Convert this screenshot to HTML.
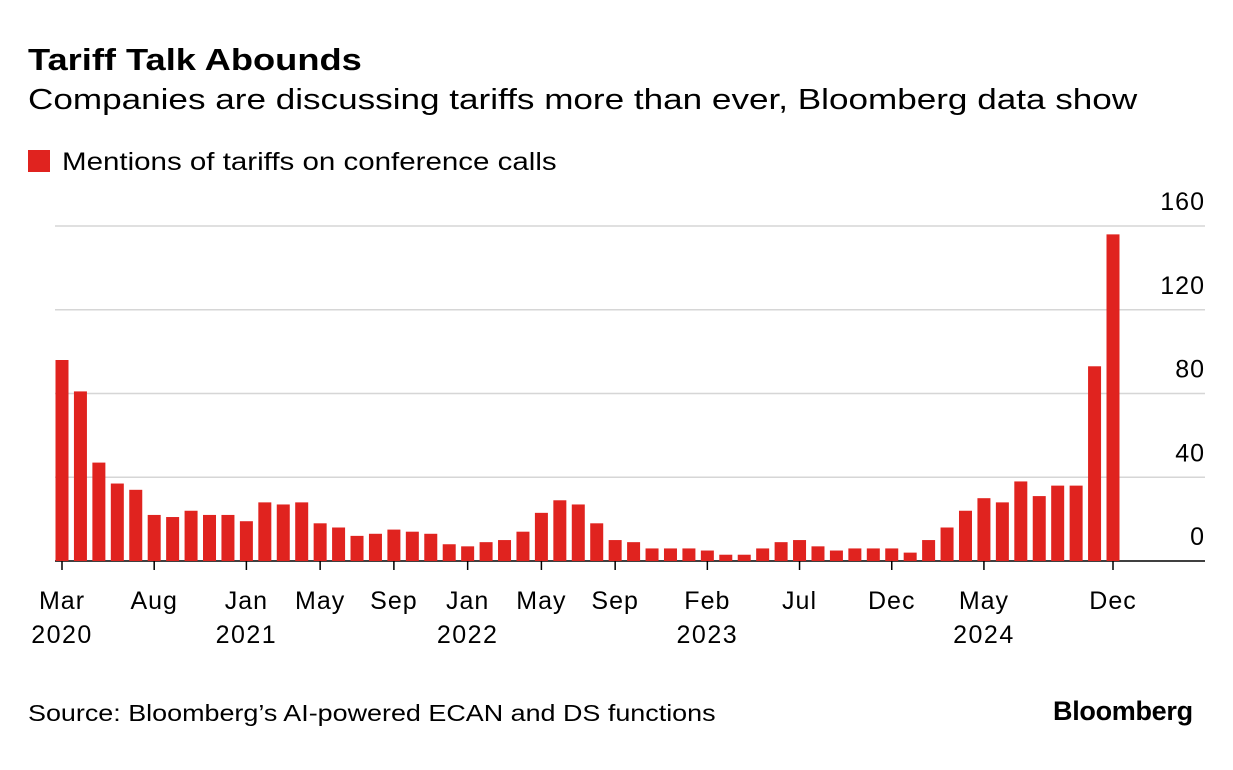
<!DOCTYPE html>
<html><head><meta charset="utf-8"><style>
body{margin:0;background:#fff;font-family:"Liberation Sans",sans-serif;color:#000}
.wrap{position:relative;width:1233px;height:770px;overflow:hidden}
.t{position:absolute;white-space:nowrap;transform-origin:left top}
</style></head><body>
<div class="wrap">
<div class="t" style="left:28px;top:42px;font-size:31px;font-weight:bold;transform:scaleX(1.17)">Tariff Talk Abounds</div>
<div class="t" style="left:28px;top:84px;font-size:29px;transform:scaleX(1.21)">Companies are discussing tariffs more than ever, Bloomberg data show</div>
<div class="t" style="left:28px;top:148px;font-size:25px"><span style="display:inline-block;width:22px;height:22px;background:#e0231f;vertical-align:-2px;margin-right:12px"></span><span style="display:inline-block;transform:scaleX(1.18);transform-origin:left center">Mentions of tariffs on conference calls</span></div>
<svg id="chart" width="1233" height="770" style="position:absolute;left:0;top:0"></svg>
<div class="t" style="left:28px;top:700px;font-size:23px;transform:scaleX(1.17)">Source: Bloomberg’s AI-powered ECAN and DS functions</div>
<div class="t" style="left:1053px;top:696px;font-size:27px;font-weight:bold;letter-spacing:-0.3px">Bloomberg</div>
</div>
<script>
const values=[96,81,47,37,34,22,21,24,22,22,19,28,27,28,18,16,12,13,15,14,13,8,7,9,10,14,23,29,27,18,10,9,6,6,6,5,3,3,6,9,10,7,5,6,6,6,4,10,16,24,30,28,38,31,36,36,93,156];
const yTicks=[0,40,80,120,160];
const xLabels=[[0,"Mar","2020"],[5,"Aug",""],[10,"Jan","2021"],[14,"May",""],[18,"Sep",""],[22,"Jan","2022"],[26,"May",""],[30,"Sep",""],[35,"Feb","2023"],[40,"Jul",""],[45,"Dec",""],[50,"May","2024"],[57,"Dec",""]];
const NS="http://www.w3.org/2000/svg",svg=document.getElementById('chart');
const x=i=>62+i*(1113-62)/57, y=v=>561-v*(561-226)/160;
function mk(t,a){const e=document.createElementNS(NS,t);for(const k in a)e.setAttribute(k,a[k]);svg.appendChild(e);return e;}
const F='Liberation Sans, sans-serif';
yTicks.forEach(v=>{
 const g=mk('line',{x1:55,x2:1205,y1:y(v),y2:y(v),stroke:v===0?'#000':'#d6d6d6','stroke-width':1.5});
 
 
 const t=mk('text',{x:1205,y:y(v)-16,'text-anchor':'end','font-size':25,'letter-spacing':1,'font-family':F});
 t.textContent=v;
 
 
});
values.forEach((v,i)=>{
 const r=mk('rect',{x:x(i)-6.5,y:y(v),width:13,height:561-y(v),fill:'#e0231f'});
 
 
});
xLabels.forEach(([i,m,yr])=>{
 const l=mk('line',{x1:x(i),x2:x(i),y1:561,y2:570,stroke:'#000','stroke-width':1.5});
 
 
 const t=mk('text',{x:x(i),y:609,'text-anchor':'middle','font-size':25,'letter-spacing':1,'font-family':F});
 t.textContent=m;
 
 
 if(yr){const t2=mk('text',{x:x(i),y:643,'text-anchor':'middle','font-size':25,'letter-spacing':1.5,'font-family':F});
 t2.textContent=yr;
 
 }
});
</script>
</body></html>
